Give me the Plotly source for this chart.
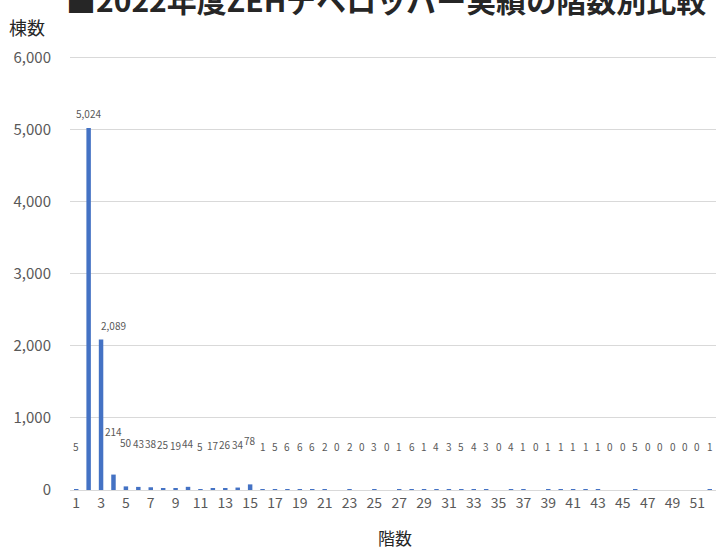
import plotly.graph_objects as go

floors = list(range(1, 53))
counts = [5, 5024, 2089, 214, 50, 43, 38, 25, 19, 44,
          5, 17, 26, 34, 78, 1, 5, 6, 6, 6,
          2, 0, 2, 0, 3, 0, 1, 6, 1, 4,
          3, 5, 4, 3, 0, 4, 1, 0, 1, 1,
          1, 1, 1, 0, 0, 5, 0, 0, 0, 0,
          0, 1]
tick_vals = list(range(1, 53, 2))
y_ticks = [0, 1000, 2000, 3000, 4000, 5000, 6000]

title_text = "■2022年度ZEHデベロッパー実績の階数別比較"
FONT = "Noto Sans CJK JP"
GRAY = "#595959"

fig = go.Figure()
fig.add_trace(go.Bar(x=floors, y=counts, marker_color="#4472C4",
                     marker_line_width=0, width=0.36))

L, R, T, B = 70, 1, 56, 59
W, H = 717, 549
pw, ph = W - L - R, H - T - B
YMAX = 6025

def px(x):
    return (x - L) / pw

def py(y):
    return (H - B - y) / ph

annotations = []
prev = 0
for f, c in zip(floors, counts):
    big = c > 1000
    # a tall label next to a taller bar is nudged right, as in the source chart
    xs = 12 if (big and prev > c) else 0
    annotations.append(dict(x=f, y=c, xref="x", yref="y", text=f"{c:,}",
                            showarrow=False, yanchor="bottom",
                            yshift=(5 if big else 34), xshift=xs,
                            font=dict(size=10, color=GRAY, family=FONT)))
    prev = c

annotations.append(dict(x=px(386), y=py(23), xref="paper", yref="paper",
                        text=f"<b>{title_text}</b>", showarrow=False,
                        xanchor="center", yanchor="bottom",
                        font=dict(size=30, color="#262626", family=FONT)))
annotations.append(dict(x=px(27), y=py(27), xref="paper", yref="paper",
                        text="棟数", showarrow=False, xanchor="center", yanchor="middle",
                        font=dict(size=18, color="#262626", family=FONT)))
annotations.append(dict(x=px(395), y=py(537), xref="paper", yref="paper",
                        text="階数", showarrow=False, xanchor="center", yanchor="middle",
                        font=dict(size=17, color="#262626", family=FONT)))

fig.update_layout(
    width=W, height=H,
    margin=dict(l=L, r=R, t=T, b=B),
    paper_bgcolor="white", plot_bgcolor="white",
    showlegend=False,
    annotations=annotations,
    xaxis=dict(tickmode="array", tickvals=tick_vals,
               ticktext=[str(v) for v in tick_vals],
               range=[0.5, 52.5], showgrid=False,
               showline=True, linecolor="#d9d9d9", linewidth=1,
               ticks="", tickfont=dict(size=14, color=GRAY, family=FONT)),
    yaxis=dict(range=[0, YMAX], tickvals=y_ticks,
               ticktext=[f"{v:,}" for v in y_ticks],
               showgrid=True, gridcolor="#d9d9d9", gridwidth=1,
               zeroline=False, showline=False, ticks="",
               ticklabelstandoff=18,
               tickfont=dict(size=15, color=GRAY, family=FONT)),
)

fig.write_html("out.html")
